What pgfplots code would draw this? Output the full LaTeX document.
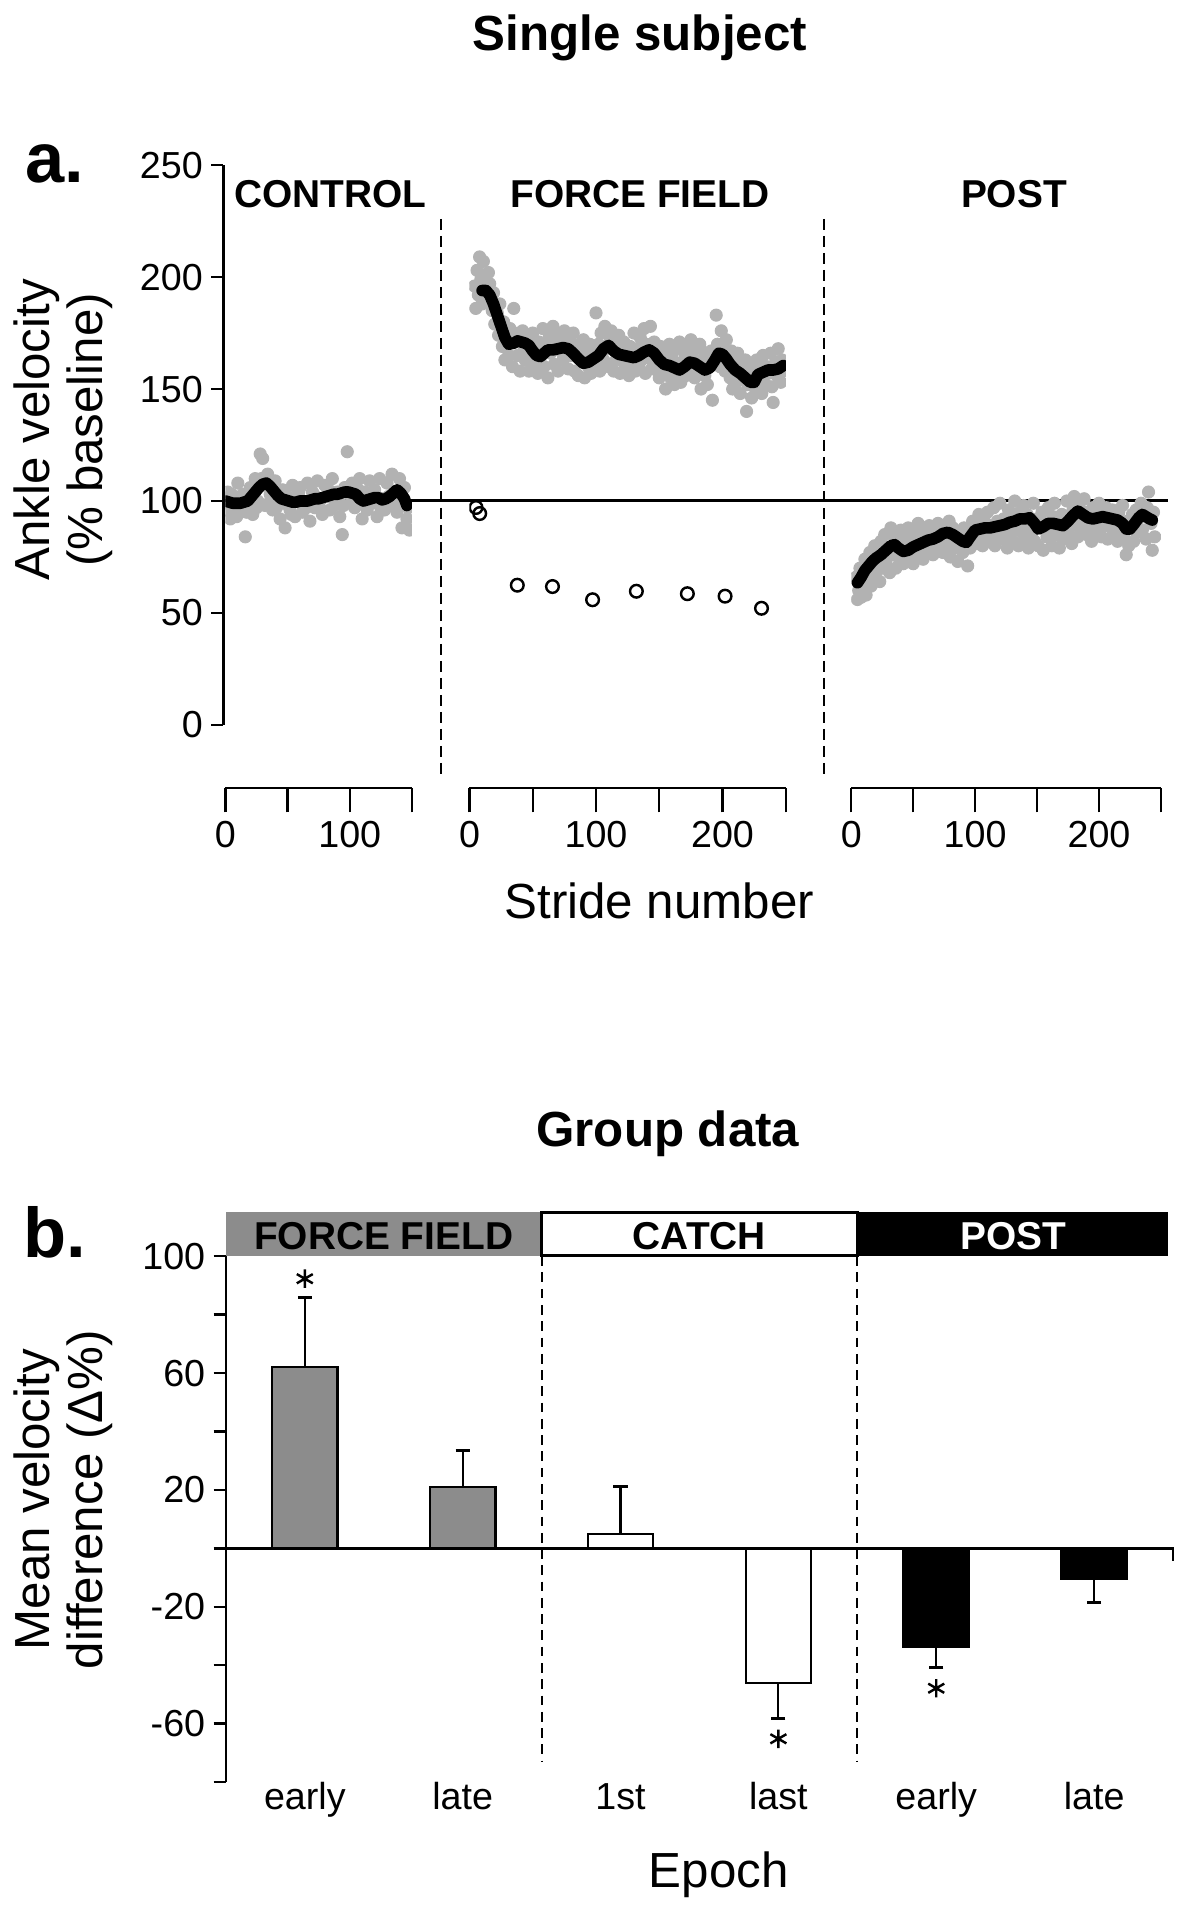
\documentclass[border=0pt]{standalone}
\usepackage{fontspec}
\setmainfont{Liberation Sans}
\usepackage{pgfplots}
\pgfplotsset{compat=1.18}
\definecolor{dotgray}{gray}{0.70}
\definecolor{bargray}{gray}{0.55}
\newcommand{\tl}{\fontsize{15.5}{18}\selectfont}
\newcommand{\lab}{\fontsize{20.3}{24}\selectfont}
\newcommand{\hdr}{\fontsize{16}{19}\selectfont\bfseries}
\pgfplotsset{
  every tick label/.append style={font=\tl},
  /pgf/number format/assume math mode=true,
  seg/.style={anchor=south west, scale only axis, height=256.5pt,
    ymin=-28.2, ymax=250, xmin=0, axis y line=none, axis x line*=bottom,
    tick align=outside, major tick length=10pt, clip marker paths=true,
    axis line style={line width=1pt}, xtick style={line width=1pt, black}},
  gdot/.style={only marks, mark=*, mark size=2.5pt, color=dotgray, mark options={draw=none, fill=dotgray}},
  bline/.style={black, line width=4.8pt, line cap=round, line join=round, mark=none},
}
\begin{document}
\begin{tikzpicture}
\path (0pt,0pt) rectangle (493.5pt,784pt);
% titles
\node[anchor=base, font=\lab\bfseries] at (263.5pt,763.25pt) {Single subject};
\node[font=\fontsize{29}{32}\selectfont\bfseries] at (22.5pt,716.5pt) {a.};
\node[rotate=90, anchor=base, font=\lab] at (20.5pt,607pt) {Ankle velocity};
\node[rotate=90, anchor=base, font=\lab] at (42.3pt,607pt) {(\% baseline)};
\node[font=\hdr] at (136pt,704pt) {CONTROL};
\node[font=\hdr] at (263.5pt,704pt) {FORCE FIELD};
\node[font=\hdr] at (417.5pt,704pt) {POST};
\node[anchor=base, font=\lab] at (271.5pt,405.75pt) {Stride number};

% background axis with the y axis
\begin{axis}[at={(92pt,485.5pt)}, anchor=south west, scale only axis,
  width=389pt, height=230.5pt, xmin=184, xmax=962, ymin=0, ymax=250,
  axis y line*=left, axis x line=none, ytick={0,50,...,250},
  tick align=outside, major tick length=5pt,
  axis line style={line width=1pt}, ytick style={line width=1pt, black}, clip=false]
\draw[line width=1pt] (axis cs:184,100.2) -- (axis cs:962,100.2);
\draw[line width=0.8pt, dash pattern=on 4.5pt off 2.5pt] (axis cs:363.3,226) -- (axis cs:363.3,-23.3);
\draw[line width=0.8pt, dash pattern=on 4.5pt off 2.5pt] (axis cs:678.6,226) -- (axis cs:678.6,-23.3);
\end{axis}

% CONTROL
\begin{axis}[seg, at={(92.8pt,459.5pt)}, width=76.8pt, xmax=150,
  xtick={0,50,100,150}, xticklabels={0,,100,}]
\addplot[gdot] coordinates {
(0,96) (2,104) (4,92) (6,101) (8,95) (10,108) (12,97) (14,103) (16,84) (18,99)
(20,106) (22,94) (24,110) (26,100) (28,121) (30,119) (32,98) (34,112) (36,103) (38,96)
(40,109) (42,100) (44,92) (46,105) (48,88) (50,102) (52,96) (54,107) (56,93) (58,101)
(60,106) (62,95) (64,99) (66,108) (68,91) (70,104) (72,97) (74,109) (76,100) (78,94)
(80,107) (82,102) (84,96) (86,110) (88,98) (90,104) (92,93) (94,85) (96,106) (98,122)
(100,103) (102,108) (104,97) (106,100) (108,110) (110,92) (112,104) (114,96) (116,109) (118,99)
(120,105) (122,93) (124,110) (126,101) (128,96) (130,108) (132,98) (134,112) (136,103) (138,95)
(140,110) (142,88) (144,106) (146,92) (148,87)
(1,99) (5,103) (9,93) (13,101) (17,95) (21,103) (25,97) (29,110) (35,99) (41,97)
(47,99) (53,94) (59,104) (65,97) (71,103) (77,96) (83,105) (89,100) (95,98) (101,99)
(107,105) (113,98) (119,103) (125,97) (131,102) (137,99) (143,101) (147,97)
};
\addplot[bline] coordinates {
(0,100) (3,99.5) (6,99) (9,99) (12,99) (15,99.5) (18,100) (21,102) (24,104) (27,106)
(30,107.5) (33,108) (36,106.5) (39,104.5) (42,102.5) (45,101) (48,100.5) (51,100) (54,99.5) (57,99.5)
(60,100) (63,100) (66,100) (69,100.5) (72,101) (75,101) (78,101.5) (81,102) (84,102.5) (87,103)
(90,103) (93,103.5) (96,104) (99,104) (102,103.5) (105,103) (108,101) (111,100) (114,100.5) (117,101)
(120,101.5) (123,101.5) (126,100.5) (129,101) (132,102) (135,103.5) (138,105) (141,103.5) (144,101) (146,98)
};
\end{axis}

% FORCE FIELD
\begin{axis}[seg, at={(193.3pt,459.5pt)}, width=130.25pt, xmax=250,
  xtick={0,50,...,250}, xticklabels={0,,100,,200,}]
\addplot[gdot] coordinates {
(4,196) (5,186) (6,203) (7,192) (8,209) (9,199) (10,188) (11,207) (12,201) (13,195)
(14,190) (15,202) (16,197) (18,185) (19,193) (20,179) (22,184) (23,174) (24,188) (26,169)
(27,180) (28,163) (30,174) (31,165) (32,177) (34,160) (35,186) (36,171) (38,165) (39,175)
(40,158) (42,176) (43,167) (44,163) (46,173) (47,158) (48,167) (50,175) (51,162) (52,170)
(54,157) (55,171) (56,164) (58,177) (59,160) (60,168) (62,155) (63,173) (64,166) (66,178)
(67,161) (68,170) (70,158) (71,174) (72,167) (74,163) (75,176) (76,170) (78,159) (79,172)
(80,165) (82,175) (83,158) (84,168) (86,156) (87,170) (88,163) (90,172) (91,155) (92,166)
(94,160) (95,170) (96,157) (98,168) (99,162) (100,184) (102,170) (103,158) (104,175) (106,163)
(107,178) (108,168) (110,160) (111,173) (112,176) (114,158) (115,170) (116,163) (118,174) (119,157)
(120,167) (122,171) (123,160) (124,165) (126,156) (127,169) (128,162) (130,175) (131,158) (132,168)
(134,160) (135,173) (136,163) (138,177) (139,157) (140,170) (142,164) (143,178) (144,159) (146,171)
(147,160) (148,166) (150,155) (151,169) (152,158) (154,166) (155,150) (156,163) (158,170) (159,155)
(160,164) (162,152) (163,168) (164,158) (166,171) (167,153) (168,162) (170,166) (171,156) (172,169)
(174,159) (175,172) (176,164) (178,155) (179,168) (180,160) (182,170) (183,150) (184,163) (186,156)
(187,166) (188,152) (190,161) (191,167) (192,145) (194,165) (195,183) (196,170) (198,160) (199,176)
(200,168) (202,158) (203,172) (204,162) (206,155) (207,167) (208,150) (210,162) (211,153) (212,166)
(214,148) (215,160) (216,155) (218,163) (219,140) (220,152) (222,158) (223,146) (224,161) (226,150)
(227,163) (228,155) (230,158) (231,148) (232,165) (234,152) (235,160) (236,157) (238,166) (239,151)
(240,144) (242,162) (243,156) (244,168) (246,153) (247,163) (248,158)
};
\addplot[bline] coordinates {
(10,194) (13,194) (16,192) (19,188) (22,183) (25,178) (28,173) (31,170) (35,170.5) (38,171.5)
(41,171) (44,170.5) (47,169.5) (50,167) (53,165) (56,164.5) (59,166) (62,167.5) (66,167.5) (70,168)
(74,168.5) (78,168) (82,166) (86,163.5) (90,161.5) (94,162) (98,163.5) (102,165) (106,168) (110,169.5)
(114,167) (118,165.5) (122,165) (126,164.5) (130,164) (134,165) (138,166.5) (142,167.5) (146,166) (150,163)
(154,161) (158,160.5) (162,159.5) (166,158.5) (170,160) (174,162) (178,161.5) (182,160) (186,158.5) (190,159.5)
(194,163) (197,166) (200,165.5) (203,163.5) (206,161) (210,158.5) (214,157) (218,155) (222,153) (225,153)
(228,156.5) (232,157.5) (236,158.5) (240,158.5) (244,159) (248,160.5)
};
\addplot[only marks, mark=o, mark size=2.6pt, mark options={line width=1pt, fill=white, draw=black}] coordinates {
(5.2,97.1) (8.1,94.4) (37.8,62.4) (65.6,61.8) (97.3,55.9) (131.9,59.7) (172.2,58.6) (202,57.5) (230.8,52.1)
};
\end{axis}

% POST
\begin{axis}[seg, at={(350.5pt,459.5pt)}, width=127.5pt, xmax=250,
  xtick={0,50,...,250}, xticklabels={0,,100,,200,}]
\addplot[gdot] coordinates {
(4,66) (5,56) (6,60) (7,70) (8,57) (9,68) (10,63) (11,74) (12,58) (13,72)
(14,66) (15,77) (16,62) (18,71) (19,80) (20,68) (22,75) (23,64) (24,82) (26,70)
(27,85) (28,73) (30,79) (31,68) (32,88) (34,76) (35,84) (36,70) (38,80) (39,74)
(40,87) (42,72) (43,82) (44,78) (46,88) (47,75) (48,84) (50,72) (51,86) (52,79)
(54,90) (55,76) (56,83) (58,74) (59,88) (60,80) (62,77) (63,89) (64,84) (66,76)
(67,87) (68,81) (70,90) (71,78) (72,85) (74,77) (75,89) (76,83) (78,80) (79,91)
(80,75) (82,88) (83,79) (84,86) (86,73) (87,84) (88,80) (90,77) (91,88) (92,82)
(94,71) (95,86) (96,79) (98,91) (99,83) (100,88) (102,81) (103,94) (104,86) (106,80)
(107,92) (108,85) (110,95) (111,82) (112,89) (114,84) (115,97) (116,80) (118,91) (119,86)
(120,99) (122,83) (123,92) (124,88) (126,79) (127,96) (128,85) (130,93) (131,82) (132,100)
(134,87) (135,80) (136,95) (138,89) (139,98) (140,84) (142,94) (143,79) (144,91) (146,86)
(147,99) (148,82) (150,92) (151,80) (152,88) (154,95) (155,78) (156,90) (158,84) (159,97)
(160,87) (162,80) (163,93) (164,99) (166,85) (167,90) (168,79) (170,94) (171,83) (172,89)
(174,100) (175,86) (176,92) (178,81) (179,96) (180,102) (182,89) (183,84) (184,98) (186,92)
(187,87) (188,101) (190,85) (191,95) (192,90) (194,82) (195,97) (196,88) (198,93) (199,86)
(200,99) (202,84) (203,94) (204,89) (206,97) (207,83) (208,92) (210,88) (211,96) (212,85)
(214,93) (215,82) (216,95) (218,89) (219,98) (220,84) (222,76) (223,91) (224,80) (226,88)
(227,94) (228,82) (230,96) (231,86) (232,92) (234,99) (235,87) (236,94) (238,83) (239,97)
(240,104) (242,90) (243,78) (244,95) (245,84)
};
\addplot[bline] coordinates {
(5,63.5) (8,66) (11,69) (14,71) (17,73) (20,74.5) (24,76) (28,78) (32,80) (35,80.5)
(38,79) (42,77.5) (46,78) (50,79.5) (54,80.5) (58,81.5) (62,82.5) (66,83) (70,84) (74,85.5)
(78,86) (82,85) (86,83.5) (90,82) (93,81.5) (96,84) (100,87) (104,87.5) (108,88) (112,88)
(116,88.5) (120,89) (124,89.5) (128,90.5) (132,91) (136,92) (140,92) (144,92.5) (148,90) (151,87.5)
(155,88.5) (159,90) (163,90) (167,89.5) (171,89) (175,91) (179,93.5) (183,95.5) (187,94) (191,92.5)
(195,92) (199,92.5) (203,93) (207,92.5) (211,92) (215,91.5) (219,90) (222,87.5) (225,87.5) (228,89.5)
(232,92.5) (235,94) (238,93) (241,92) (243,91.5)
};
\end{axis}

% ---------------- panel b ----------------
\node[anchor=base, font=\lab\bfseries] at (275pt,311.75pt) {Group data};
\node[font=\fontsize{29}{32}\selectfont\bfseries] at (22.5pt,276.5pt) {b.};
\node[rotate=90, anchor=base, font=\lab] at (20.5pt,166.5pt) {Mean velocity};
\node[rotate=90, anchor=base, font=\lab] at (42.3pt,166.5pt) {difference (Δ\%)};
\node[anchor=base, font=\lab] at (296pt,6.75pt) {Epoch};

\begin{axis}[at={(93pt,50.25pt)}, anchor=south west, scale only axis,
  width=390pt, height=216.5pt, xmin=-0.5, xmax=5.5, ymin=-80, ymax=100,
  axis y line*=left, axis x line*=bottom, x axis line style={draw=none},
  xtick={0,...,5}, xticklabels={early,late,1st,last,early,late},
  xtick style={draw=none}, xticklabel style={anchor=base, yshift=-6.3pt},
  ytick={-80,-60,...,100}, yticklabels={,-60,,-20,,20,,60,,100},
  tick align=outside, major tick length=5pt, clip marker paths=true,
  axis line style={line width=1pt}, ytick style={line width=1pt, black}, clip=false]
\fill[bargray] (axis cs:-0.5,100) rectangle (axis cs:1.5,115.3);
\draw[line width=1.1pt, fill=white] (axis cs:1.5,100.3) rectangle (axis cs:3.5,115);
\fill[black] (axis cs:3.5,100) rectangle (axis cs:5.47,115.3);
\node[font=\hdr] at (axis cs:0.5,107.0) {FORCE FIELD};
\node[font=\hdr] at (axis cs:2.5,107.0) {CATCH};
\node[font=\hdr, text=white] at (axis cs:4.49,107.0) {POST};
\draw[line width=0.8pt, dash pattern=on 4pt off 2.7pt] (axis cs:1.5,100) -- (axis cs:1.5,-72.7);
\draw[line width=0.8pt, dash pattern=on 4pt off 2.7pt] (axis cs:3.5,100) -- (axis cs:3.5,-72.7);
\addplot[ybar, bar width=0.415, fill=bargray, draw=black, line width=0.9pt,
  error bars/.cd, y dir=plus, y explicit,
  error bar style={line width=0.9pt}, error mark options={rotate=90, line width=1.3pt, mark size=2.9pt}]
  coordinates {(0,62) +- (0,24) (1,21) +- (0,12.5)};
\addplot[ybar, bar width=0.415, fill=white, draw=black, line width=0.9pt,
  error bars/.cd, y dir=plus, y explicit,
  error bar style={line width=0.9pt}, error mark options={rotate=90, line width=1.3pt, mark size=2.9pt}]
  coordinates {(2,4.8) +- (0,16.4)};
\addplot[ybar, bar width=0.415, fill=white, draw=black, line width=0.9pt,
  error bars/.cd, y dir=minus, y explicit,
  error bar style={line width=0.9pt}, error mark options={rotate=90, line width=1.3pt, mark size=2.9pt}]
  coordinates {(3,-46) +- (0,12.2)};
\addplot[ybar, bar width=0.415, fill=black, draw=black, line width=0.9pt,
  error bars/.cd, y dir=minus, y explicit,
  error bar style={line width=0.9pt}, error mark options={rotate=90, line width=1.3pt, mark size=2.9pt}]
  coordinates {(4,-33.8) +- (0,7) (5,-10.5) +- (0,7.9)};
\draw[line width=1pt] (axis cs:-0.5,0) -- (axis cs:5.5,0) -- (axis cs:5.5,-4.2);
\addplot[only marks, mark=asterisk, mark size=3.8pt, mark options={line width=1pt, black}]
  coordinates {(0,92.3) (3,-65.2) (4,-47.9)};
\end{axis}
\end{tikzpicture}
\end{document}
